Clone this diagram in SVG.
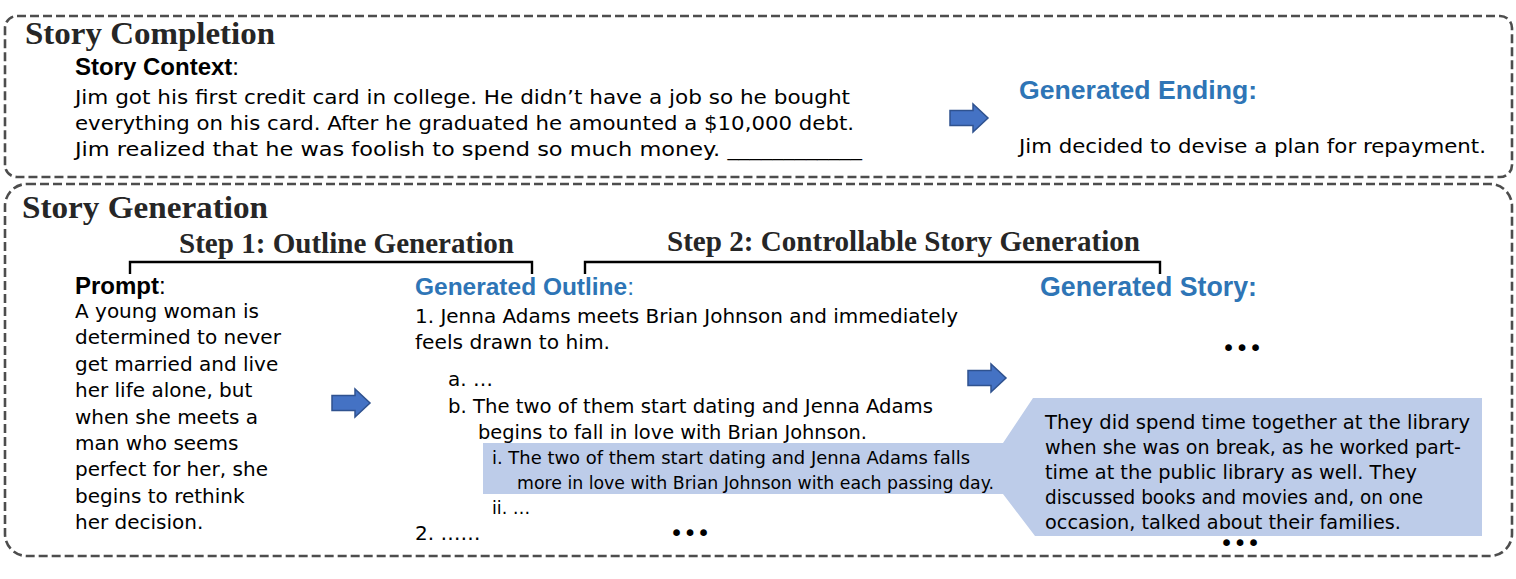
<svg xmlns="http://www.w3.org/2000/svg" xmlns:xlink="http://www.w3.org/1999/xlink" width="1516" height="579" viewBox="0 0 1516 579">
<defs>
<style>
.box{fill:none;stroke:#4d4d4d;stroke-width:2.6;stroke-dasharray:9 4}
.title{font-family:"Liberation Serif","Times New Roman",serif;font-weight:bold;font-size:32px;fill:#262626}
.step{font-family:"Liberation Serif","Times New Roman",serif;font-weight:bold;font-size:30px;fill:#262626}
.lbl{font-family:"Liberation Sans",Arial,sans-serif;font-weight:bold;font-size:24px;fill:#000}
.colon{font-weight:normal}
.blue{font-family:"Liberation Sans",Arial,sans-serif;font-weight:bold;fill:#2E75B6}
.body{font-family:"DejaVu Sans",sans-serif;font-size:20px;fill:#000}
.small{font-size:17.5px}
.dots{font-family:"DejaVu Sans",sans-serif;font-size:23px;fill:#000;text-anchor:middle}
.arrow{fill:#4472C4;stroke:#2F528F;stroke-width:1.5}
.bracket{fill:none;stroke:#000;stroke-width:2.4}
.hl{fill:#BDCCE9}
</style>
<path id="arr" d="M0,6.5 H23 V0 L38,14 L23,28 V21.5 H0 Z"/>
</defs>
<rect width="1516" height="579" fill="#fff"/>

<g id="story-completion">
<rect class="box" x="5" y="16" width="1507" height="161" rx="12"/>
<text class="title" x="25" y="44" textLength="250" lengthAdjust="spacingAndGlyphs">Story Completion</text>
</g>

<g id="story-context">
<text class="lbl" x="75" y="75">Story Context<tspan class="colon">:</tspan></text>
<text class="body" x="75" y="104" textLength="775" lengthAdjust="spacingAndGlyphs">Jim got his first credit card in college. He didn’t have a job so he bought</text>
<text class="body" x="75" y="130" textLength="779" lengthAdjust="spacingAndGlyphs">everything on his card. After he graduated he amounted a $10,000 debt.</text>
<text class="body" x="75" y="156" textLength="787" lengthAdjust="spacingAndGlyphs">Jim realized that he was foolish to spend so much money. ____________</text>
</g>

<g id="generated-ending">
<text class="blue" x="1019" y="99" font-size="25" textLength="238" lengthAdjust="spacingAndGlyphs">Generated Ending:</text>
<text class="body" x="1019" y="153" textLength="467" lengthAdjust="spacingAndGlyphs">Jim decided to devise a plan for repayment.</text>
</g>

<g id="story-generation">
<rect class="box" x="5" y="184" width="1507" height="372" rx="22"/>
<text class="title" x="22" y="218" textLength="246" lengthAdjust="spacingAndGlyphs">Story Generation</text>
<text class="step" x="179" y="253" textLength="335" lengthAdjust="spacingAndGlyphs">Step 1: Outline Generation</text>
<text class="step" x="667" y="251" textLength="473" lengthAdjust="spacingAndGlyphs">Step 2: Controllable Story Generation</text>
</g>

<g id="prompt">
<text class="lbl" x="75" y="294">Prompt<tspan class="colon">:</tspan></text>
<text class="body" x="75" y="318">A young woman is</text>
<text class="body" x="75" y="344">determined to never</text>
<text class="body" x="75" y="371">get married and live</text>
<text class="body" x="75" y="397">her life alone, but</text>
<text class="body" x="75" y="424">when she meets a</text>
<text class="body" x="75" y="450">man who seems</text>
<text class="body" x="75" y="476">perfect for her, she</text>
<text class="body" x="75" y="503">begins to rethink</text>
<text class="body" x="75" y="529">her decision.</text>
</g>

<g id="generated-story">
<polygon class="hl" points="483,443 1003,443 1033,398 1482,398 1482,536 1035,536 1003,494 483,494"/>
<text class="blue" x="1040" y="296" font-size="27" textLength="217" lengthAdjust="spacingAndGlyphs">Generated Story:</text>
<text class="dots" x="1242" y="356">•••</text>
<text class="body" x="1045" y="429" textLength="425" lengthAdjust="spacingAndGlyphs">They did spend time together at the library</text>
<text class="body" x="1045" y="454" textLength="416" lengthAdjust="spacingAndGlyphs">when she was on break, as he worked part-</text>
<text class="body" x="1045" y="479" textLength="372" lengthAdjust="spacingAndGlyphs">time at the public library as well. They</text>
<text class="body" x="1045" y="504" textLength="378" lengthAdjust="spacingAndGlyphs">discussed books and movies and, on one</text>
<text class="body" x="1045" y="529" textLength="356" lengthAdjust="spacingAndGlyphs">occasion, talked about their families.</text>
<text class="dots" x="1240" y="551">•••</text>
</g>

<g id="generated-outline">
<text class="blue" x="415" y="295" font-size="24" textLength="219" lengthAdjust="spacingAndGlyphs">Generated Outline<tspan font-weight="normal">:</tspan></text>
<text class="body" x="415" y="323" textLength="543" lengthAdjust="spacingAndGlyphs">1. Jenna Adams meets Brian Johnson and immediately</text>
<text class="body" x="415" y="349" textLength="195" lengthAdjust="spacingAndGlyphs">feels drawn to him.</text>
<text class="body" x="448" y="386">a. …</text>
<text class="body" x="448" y="413" textLength="485" lengthAdjust="spacingAndGlyphs">b. The two of them start dating and Jenna Adams</text>
<text class="body" x="478" y="439" textLength="389" lengthAdjust="spacingAndGlyphs">begins to fall in love with Brian Johnson.</text>
<text class="body small" x="492" y="464" textLength="478" lengthAdjust="spacingAndGlyphs">i. The two of them start dating and Jenna Adams falls</text>
<text class="body small" x="517" y="489" textLength="477" lengthAdjust="spacingAndGlyphs">more in love with Brian Johnson with each passing day.</text>
<text class="body small" x="492" y="514">ii. …</text>
<text class="body" x="415" y="540">2. ……</text>
<text class="dots" x="690" y="541">•••</text>
</g>

<g id="connectors">
<use xlink:href="#arr" class="arrow" transform="translate(950,104)"/>
<use xlink:href="#arr" class="arrow" transform="translate(332,389)"/>
<use xlink:href="#arr" class="arrow" transform="translate(968,364)"/>
<path class="bracket" d="M130,274 V262 H532 V274"/>
<path class="bracket" d="M585,274 V262 H1160 V274"/>
</g>
</svg>
